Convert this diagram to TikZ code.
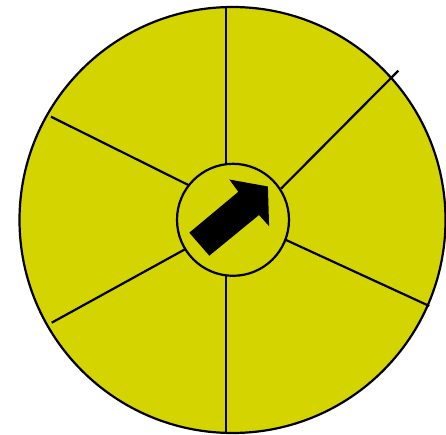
\documentclass[tikz,border=0pt]{standalone}
\definecolor{wheel}{RGB}{212,212,0}
\begin{document}
\begin{tikzpicture}[x=1pt,y=-1pt,
  rim/.style={draw=black,line width=2.2pt,fill=wheel,circle,inner sep=0pt},
  spoke/.style={draw=black,line width=2.2pt}]
\useasboundingbox (0,0) rectangle (446,435);
\node[rim,minimum size=426pt] (outer) at (232.5,220) {};
% spoke end points
\coordinate (t1) at (226,7.5);   \coordinate (t2) at (226,164.5);
\coordinate (b1) at (226,275);   \coordinate (b2) at (226,432.5);
\coordinate (ur1) at (281,188.7); \coordinate (ur2) at (398.3,70.7);
\coordinate (lr1) at (286,240);  \coordinate (lr2) at (429.3,306);
\coordinate (ll1) at (185,249.3); \coordinate (ll2) at (51.7,322.7);
\coordinate (ul1) at (188.3,185); \coordinate (ul2) at (51,116.7);
\draw[spoke] (t1) -- (t2);
\draw[spoke] (b1) -- (b2);
\draw[spoke] (ur1) -- (ur2);
\draw[spoke] (lr1) -- (lr2);
\draw[spoke] (ll1) -- (ll2);
\draw[spoke] (ul1) -- (ul2);
\node[rim,minimum size=112pt] (inner) at (233,219.8) {};
\fill[black] (229.3,179.5) -- (267.9,186.5) -- (269.1,226.2) -- (259,215)
  -- (209.3,255.7) -- (189.3,232.7) -- (238.3,191.8) -- cycle;
\end{tikzpicture}
\end{document}
